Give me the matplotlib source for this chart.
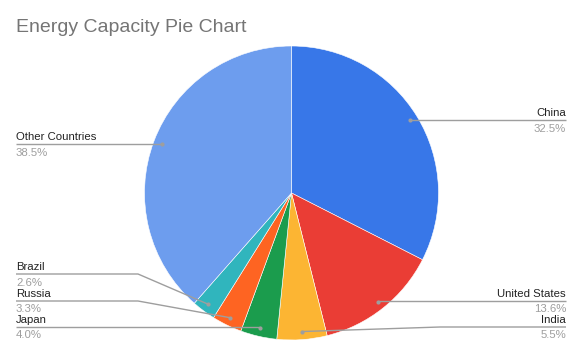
import numpy as np
import matplotlib
matplotlib.use("Agg")
import matplotlib.pyplot as plt

plt.rcParams['font.family'] = ['Liberation Sans', 'DejaVu Sans']

# data, in the order the slices go round (clockwise from 12 o'clock)
countries = ['China', 'United States', 'India', 'Japan', 'Russia', 'Brazil', 'Other Countries']
shares = [32.5, 13.6, 5.5, 4.0, 3.3, 2.6, 38.5]
share_labels = ['32.5%', '13.6%', '5.5%', '4.0%', '3.3%', '2.6%', '38.5%']
colors = ['#3877e8', '#ea3d35', '#fcb533', '#1b9c4d', '#fe6422', '#30b5bd', '#6d9dee']

# label layout (pixels): side, y of leader line
label_side = ['right', 'right', 'right', 'left', 'left', 'left', 'left']
label_line_y = [120, 301, 327, 327, 301, 274, 144]

fig = plt.figure(figsize=(5.81, 3.54), dpi=100)
ax = fig.add_axes([0, 0, 1, 1])

cx, cy, r = 291.5, 193, 147
ax.pie(shares, colors=colors, center=(cx, cy), radius=r,
       startangle=-90, counterclock=True,
       wedgeprops={'linewidth': 0.4, 'edgecolor': 'white'})
ax.set_xlim(0, 581)
ax.set_ylim(354, 0)
ax.set_aspect('equal', adjustable='box')
ax.axis('off')

ax.text(16, 32, 'Energy Capacity Pie Chart', fontsize=14, color='#757575',
        ha='left', va='baseline')

total = sum(shares)
cum = 0
line_col = '#9e9e9e'
for name, v, pl, side, ly in zip(countries, shares, share_labels, label_side, label_line_y):
    theta = np.deg2rad(-90 + 360 * (cum + v / 2) / total)
    cum += v
    dx = cx + 0.945 * r * np.cos(theta)
    dy = cy + 0.945 * r * np.sin(theta)
    if side == 'right':
        xs = [dx, 440 if abs(ly - dy) > 2 else dx, 566]
        ys = [dy, ly, ly]
        tx, ha = 566, 'right'
    else:
        if abs(ly - dy) > 6:
            xs = [dx, 138, 16]
        else:
            xs = [dx, dx, 16]
        ys = [dy, ly, ly]
        tx, ha = 16, 'left'
    ax.plot(xs, ys, color=line_col, lw=1.0, solid_capstyle='butt')
    ax.plot([dx], [dy], 'o', color=line_col, ms=3, mew=0)
    ax.text(tx, ly - 4, name, fontsize=8.2, color='#222222', ha=ha, va='baseline')
    ax.text(tx, ly + 3.5, pl, fontsize=8.2, color='#9e9e9e', ha=ha, va='top')

fig.savefig('out.png', dpi=100)
